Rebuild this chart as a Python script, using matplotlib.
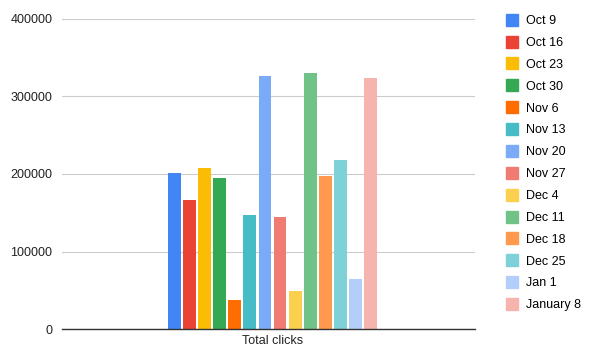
import numpy as np
import matplotlib.pyplot as plt
from matplotlib.lines import Line2D

plt.rcParams['font.family'] = ['Liberation Sans', 'DejaVu Sans']

# --- data ---
category = "Total clicks"
weeks = ["Oct 9", "Oct 16", "Oct 23", "Oct 30", "Nov 6", "Nov 13", "Nov 20",
         "Nov 27", "Dec 4", "Dec 11", "Dec 18", "Dec 25", "Jan 1", "January 8"]
clicks = [201000, 166500, 207500, 194500, 37500, 147000, 326500,
          144000, 49000, 330000, 197500, 218000, 64500, 323500]
colors = ["#4285F4", "#EA4335", "#FBBC04", "#34A853", "#FF6D01", "#46BDC6",
          "#7BAAF7", "#F07B72", "#FCD04F", "#71C287", "#FF994D", "#7ED1D7",
          "#B3CEFB", "#F7B4AE"]
yticks = [0, 100000, 200000, 300000, 400000]

fig = plt.figure(figsize=(5.93, 3.63), dpi=100)
ax = fig.add_axes([62 / 593, 34 / 363, 413 / 593, 310 / 363])

n = len(weeks)
step = 0.0365
width = 0.031
center = 0.0097  # group sits a bit right of the axis centre
offsets = center + (np.arange(n) - (n - 1) / 2) * step
for off, val, col, lab in zip(offsets, clicks, colors, weeks):
    ax.bar(off, val, width=width, color=col, label=lab, zorder=3)

ax.set_xlim(-0.5, 0.5)
ax.set_ylim(0, 400000)
ax.set_yticks(yticks)
ax.set_yticklabels([str(t) for t in yticks])
ax.set_xticks([center])
ax.set_xticklabels([category])
ax.tick_params(axis='both', length=0, labelsize=9, colors='#222222')
ax.tick_params(axis='y', pad=7)
ax.tick_params(axis='x', pad=4)
ax.grid(axis='y', color='#cccccc', linewidth=0.8, zorder=0)
for s in ['top', 'right', 'left']:
    ax.spines[s].set_visible(False)
ax.spines['bottom'].set_color('#333333')
ax.spines['bottom'].set_linewidth(1.0)
ax.spines['bottom'].set_zorder(4)

handles = [Line2D([], [], marker='s', linestyle='none', markersize=8.5,
                  markerfacecolor=c, markeredgecolor=c) for c in colors]
fig.legend(handles, weeks, loc='upper left', bbox_to_anchor=(501 / 593, 1 - 10 / 363),
           frameon=False, fontsize=9, handlelength=1.0, handletextpad=0.6,
           labelspacing=0.79, borderaxespad=0)

fig.savefig("out.png", dpi=100)
